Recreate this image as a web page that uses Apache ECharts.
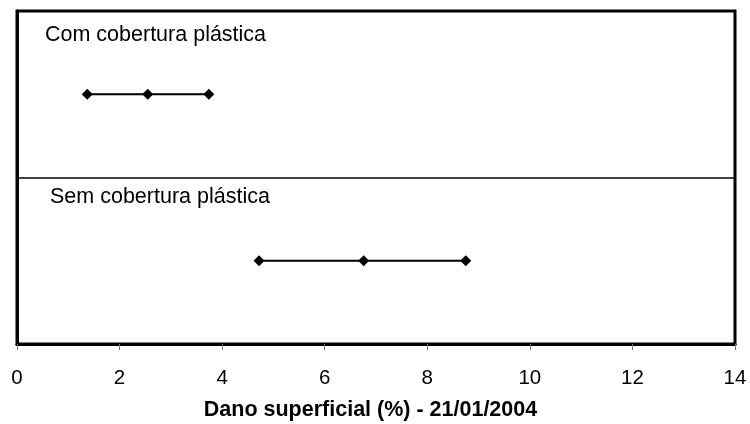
<!DOCTYPE html>
<html>
<head>
<meta charset="utf-8">
<script src="https://cdn.jsdelivr.net/npm/echarts@6/dist/echarts.min.js"></script>
<style>html,body{margin:0;padding:0;background:#fff}#c{width:750px;height:424px}</style>
</head>
<body>
<div id="c"></div>
<script>
var categories = ['Com cobertura plástica', 'Sem cobertura plástica'];
var comValues = [1.37, 2.55, 3.74];
var semValues = [4.72, 6.76, 8.75];
var xTicks = [0, 2, 4, 6, 8, 10, 12, 14];
var xTitle = 'Dano superficial (%) - 21/01/2004';

var FONT = '"Liberation Sans", Arial, sans-serif';
var chart = echarts.init(document.getElementById('c'), null, {renderer: 'canvas'});

function rowData(vals, cat) { return vals.map(function (v) { return [v, cat]; }); }

var seriesStyle = {
  type: 'line',
  symbol: 'diamond',
  symbolSize: 11,
  lineStyle: {color: '#000', width: 2},
  itemStyle: {color: '#000'},
  animation: false
};

chart.setOption({
  backgroundColor: '#fff',
  animation: false,
  grid: {
    left: 17, right: 15, top: 11, bottom: 80,
    outerBoundsMode: 'none',
    containLabel: false,
    show: true, borderColor: '#000', borderWidth: 3, backgroundColor: 'transparent'
  },
  xAxis: {
    type: 'value',
    min: xTicks[0], max: xTicks[xTicks.length - 1], interval: 2,
    axisLine: {show: true, lineStyle: {color: '#000', width: 3}},
    axisTick: {show: true, inside: false, length: 6, lineStyle: {color: '#777', width: 1}},
    axisLabel: {fontFamily: FONT, fontSize: 20.5, color: '#000', margin: 24},
    splitLine: {show: false},
    name: xTitle,
    nameLocation: 'middle',
    nameGap: 55,
    nameTextStyle: {fontFamily: FONT, fontSize: 21.5, fontWeight: 'bold', color: '#000', padding: [0, 11, 0, 0]}
  },
  yAxis: {
    type: 'category',
    data: categories,
    inverse: true,
    boundaryGap: true,
    axisLine: {show: true, lineStyle: {color: '#000', width: 3}},
    axisTick: {show: false},
    axisLabel: {show: false},
    splitLine: {show: true, lineStyle: {color: '#000', width: 1.5}}
  },
  graphic: [
    {type: 'text', left: 45, top: 24, style: {text: categories[0], font: '21.5px ' + FONT, fill: '#000'}},
    {type: 'text', left: 50, top: 186, style: {text: categories[1], font: '21.5px ' + FONT, fill: '#000'}}
  ],
  series: [
    Object.assign({name: categories[0], data: rowData(comValues, categories[0])}, seriesStyle),
    Object.assign({name: categories[1], data: rowData(semValues, categories[1])}, seriesStyle)
  ]
});
</script>
</body>
</html>
